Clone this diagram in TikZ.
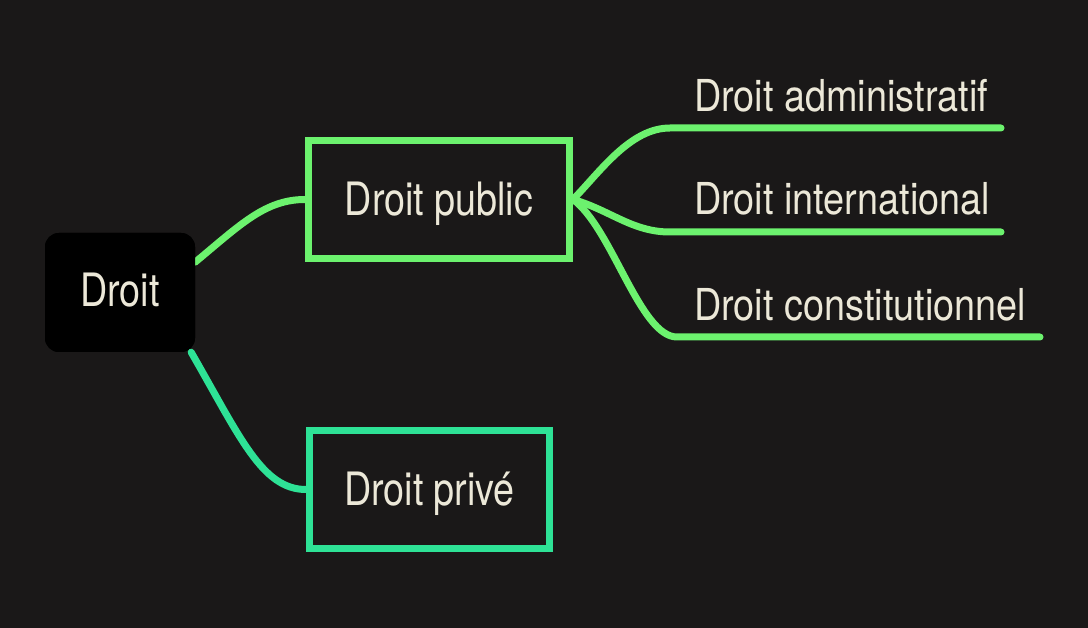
\documentclass[tikz,border=0pt]{standalone}
\usepackage{fontspec}
\setmainfont[FakeStretch=0.82]{TeX Gyre Heros}
\newfontfamily\leaffont[FakeStretch=0.86]{TeX Gyre Heros}
\definecolor{bgc}{RGB}{26,24,24}
\definecolor{pubgreen}{RGB}{108,242,110}
\definecolor{privgreen}{RGB}{46,226,150}
\definecolor{txt}{RGB}{236,232,216}
\begin{document}
\begin{tikzpicture}[x=1pt,y=-1pt,
  boxtext/.style={text=txt,font=\fontsize{46}{50}\selectfont,text height=32pt,text depth=0pt,inner sep=0pt},
  pubbox/.style={boxtext,draw=pubgreen,line width=7pt,minimum width=261pt,minimum height=118pt},
  privbox/.style={boxtext,draw=privgreen,line width=7pt,minimum width=240pt,minimum height=118pt},
  rootbox/.style={boxtext,fill=black,rounded corners=14pt,minimum width=150pt,minimum height=119pt,text height=29pt},
  leaftext/.style={text=txt,font=\leaffont\fontsize{44}{48}\selectfont,anchor=base west,inner sep=0pt},
  publine/.style={draw=pubgreen,line width=7pt,line cap=round},
  privline/.style={draw=privgreen,line width=7pt,line cap=round}]
\fill[bgc] (0,0) rectangle (1088,628);
\useasboundingbox (0,0) rectangle (1088,628);
% connectors first (behind boxes)
\coordinate (endA) at (1001,128);
\coordinate (endB) at (1001,232);
\coordinate (endC) at (1040,337);
\node[rootbox] (droit) at (120,292.5) {};
\node[pubbox] (public) at (439,199.5) {};
\node[privbox] (prive) at (429.5,489.5) {};
\draw[publine] (droit.22) .. controls (240,225) and (265,199.5) .. (public.west);
\draw[privline] (droit.-40) .. controls (240,437) and (262,489.5) .. (prive.west);
\draw[publine] (public.east) .. controls (600,172) and (630,128) .. (670,128) -- (endA);
\draw[publine] (public.east) .. controls (610,210) and (632,232) .. (670,232) -- (endB);
\draw[publine] (public.east) .. controls (612,228) and (640,337) .. (677,337) -- (endC);
\node[rootbox] at (droit) {Droit};
\node[pubbox] at (public) {Droit public};
\node[privbox] at (prive) {Droit privé};
\node[leaftext] (la) at (694,112) {Droit administratif};
\node[leaftext] (lb) at (694,215) {Droit international};
\node[leaftext] (lc) at (694,320.5) {Droit constitutionnel};
\end{tikzpicture}
\end{document}
